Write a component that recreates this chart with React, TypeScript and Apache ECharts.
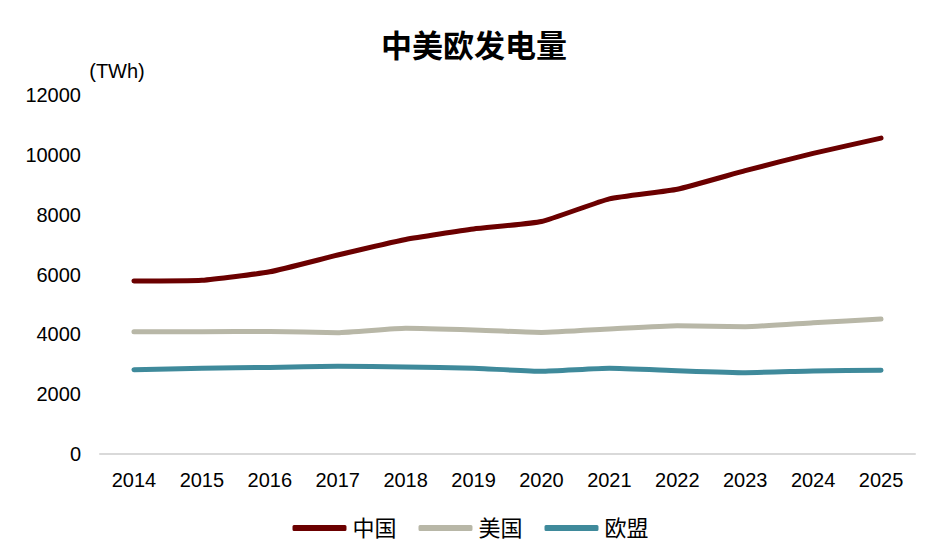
import React, { useEffect, useRef } from "react";
import * as echarts from "echarts";

const years = ["2014","2015","2016","2017","2018","2019","2020","2021","2022","2023","2024","2025"];
const china = [5780, 5805, 6090, 6650, 7170, 7520, 7770, 8530, 8850, 9470, 10050, 10560];
const usa = [4090, 4090, 4095, 4055, 4200, 4145, 4065, 4180, 4290, 4255, 4390, 4510];
const eu = [2820, 2865, 2895, 2930, 2910, 2865, 2765, 2865, 2785, 2720, 2775, 2800];
const seriesNames = ["中国", "美国", "欧盟"];
const colors = ["#6b0000", "#b8b7a7", "#3f8a9b"];

export default function App() {
  const ref = useRef<HTMLDivElement>(null);
  useEffect(() => {
    if (!ref.current) return;
    const chart = echarts.init(ref.current, null, { renderer: "svg" });
    const font = "Arial, 'Liberation Sans', 'Noto Sans CJK SC', sans-serif";
    const data = [china, usa, eu];
    chart.setOption({
      animation: false,
      backgroundColor: "#ffffff",
      textStyle: { fontFamily: font },
      title: {
        text: "中美欧发电量",
        left: 469,
        textAlign: "center",
        top: 26,
        textStyle: { fontSize: 31, fontWeight: "bold", color: "#000", fontFamily: font },
      },
      legend: {
        bottom: 16,
        left: "center",
        itemWidth: 54,
        itemHeight: 6,
        itemGap: 22,
        icon: "roundRect",
        textStyle: { fontSize: 22, color: "#000", fontFamily: font, padding: [0, 0, 0, 1] },
        data: seriesNames,
      },
      grid: { left: 100, right: 26, top: 95, bottom: 106 },
      xAxis: {
        type: "category",
        data: years,
        boundaryGap: true,
        axisLine: { lineStyle: { color: "#d9d9d9", width: 2 } },
        axisTick: { show: false },
        axisLabel: { fontSize: 20, color: "#000", margin: 16, fontFamily: font },
      },
      yAxis: {
        type: "value",
        min: 0,
        max: 12000,
        interval: 2000,
        name: "(TWh)",
        nameLocation: "end",
        nameGap: 14,
        nameTextStyle: { fontSize: 20, color: "#000", align: "center", padding: [0, 0, 0, 34] },
        axisLine: { show: false },
        axisTick: { show: false },
        splitLine: { show: false },
        axisLabel: { fontSize: 20, color: "#000", margin: 19, fontFamily: font, formatter: (v: number) => String(v) },
      },
      series: seriesNames.map((n, i) => ({
        name: n,
        type: "line",
        data: data[i],
        symbol: "none",
        smooth: 0.15,
        lineStyle: { width: 5, color: colors[i], cap: "round", join: "round" },
        itemStyle: { color: colors[i] },
      })),
    });
    return () => chart.dispose();
  }, []);
  return <div ref={ref} style={{ position: "absolute", left: 0, top: 0, width: 941, height: 560 }} />;
}
